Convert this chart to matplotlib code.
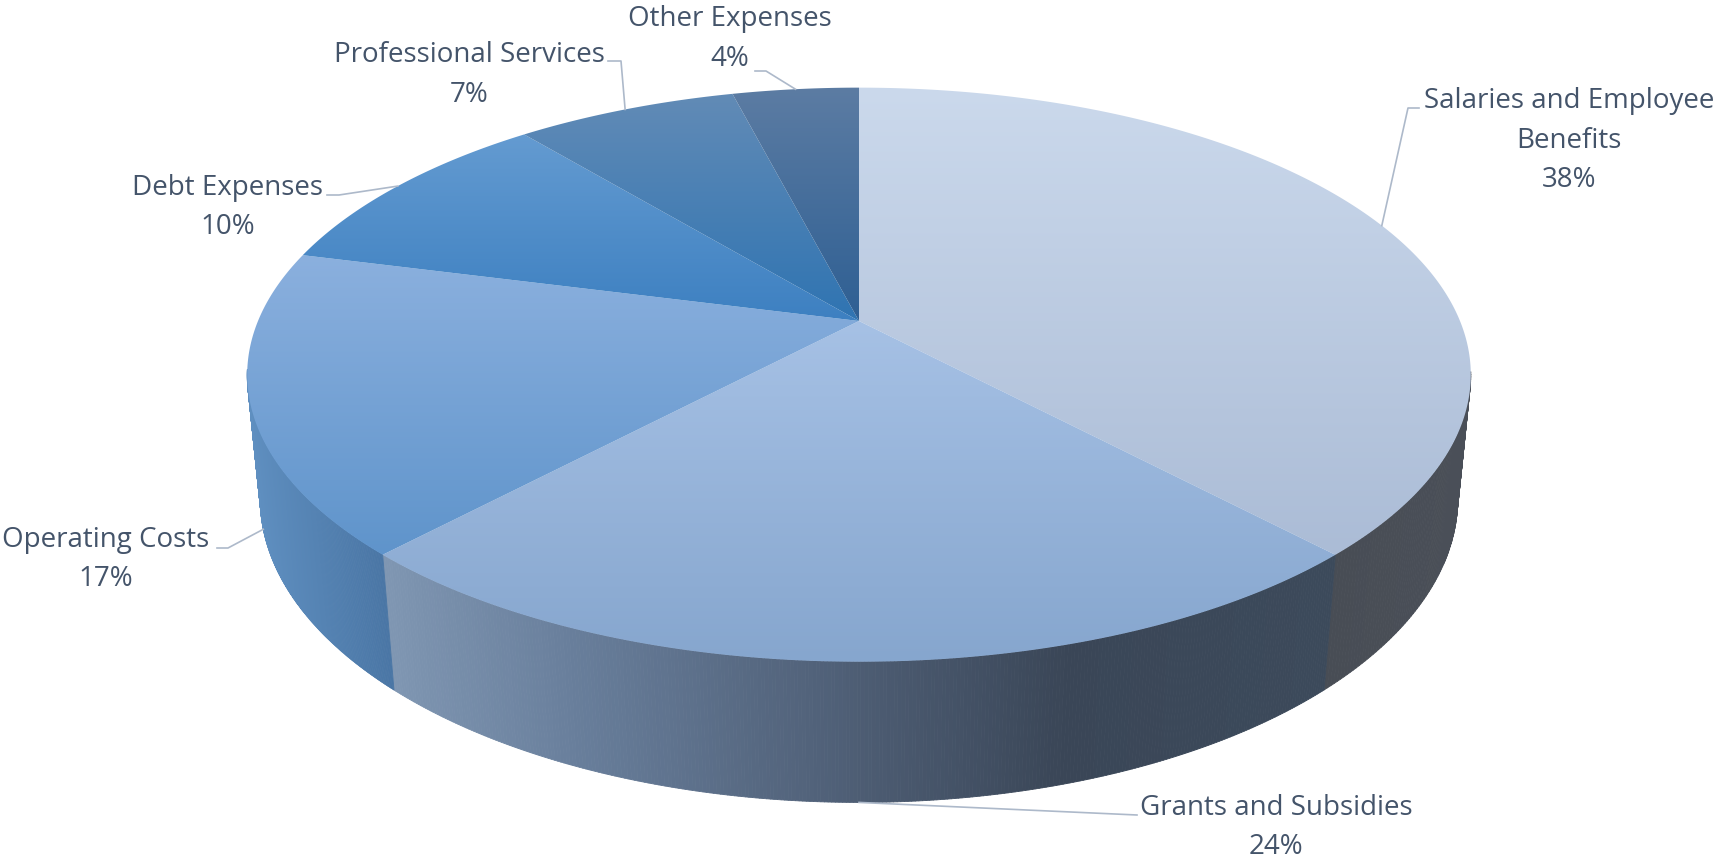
import numpy as np
import matplotlib
matplotlib.use('Agg')
import matplotlib.pyplot as plt
from matplotlib.collections import PolyCollection
from matplotlib.colors import LinearSegmentedColormap
from matplotlib.patches import Polygon

# data
categories = ['Salaries and Employee\nBenefits', 'Grants and Subsidies', 'Operating Costs',
              'Debt Expenses', 'Professional Services', 'Other Expenses']
shares = [38, 24, 17, 10, 7, 4]

# colours, top of slice (far -> near)
top_colors = [['#CBD9EC', '#ABBCD6'], ['#A6C1E5', '#86A6CE'], ['#8BB0DE', '#5F94CB'],
              ['#649BD1', '#3D80C1'], ['#628BB6', '#2F74B2'], ['#5C7CA3', '#2E5F93']]
# side wall colours, left -> right on the page
wall_colors = [[(0, '#484D55'), (1, '#4A4F58')],
               [(0, '#7F96B2'), (0.2, '#687E9B'), (0.49, '#4E5E75'), (0.72, '#3A4657'), (1, '#3C4A5B')],
               [(0, '#5F8FC0'), (1, '#4A76A5')]]
text_color = '#44546A'
line_color = '#ADB9CA'

# label layout: text centre, elbow of leader, wall depth where the leader ends
label_xy = [(1569, 101), (1276, 808), (106, 540), (228, 188), (469, 55), (730, 19)]
elbow = [(1408, 108), (1137, 815), (228, 548), (339, 195), (621, 61), (766, 71)]
start = [(1419, 108), (1137, 815), (217, 548), (327, 195), (608, 61), (755, 71)]
leader_z = [0, 1, 1, 0, 0, 0]

# perspective of the disc
cx, cy = 859, 321
a, b, k = 601, 277, 0.187
c, d = 124.5, 0.021


def project(theta, z=0.0):
    u = np.sin(theta)
    v = -np.cos(theta)
    w = 1 - k * v + d * z
    return cx + a * u / w, cy + (b * v + c * z) / w


fig = plt.figure(figsize=(17.16, 8.59), dpi=100)
ax = fig.add_axes([0, 0, 1, 1])

edges = np.cumsum([0] + shares) / sum(shares) * 2 * np.pi

# side walls, only the three front slices show one
for i in range(len(wall_colors)):
    t = np.linspace(edges[i], edges[i + 1], 300)
    x0, y0 = project(t, 0)
    x1, y1 = project(t, 1)
    quads = [[(x0[j], y0[j]), (x0[j + 1], y0[j + 1]), (x1[j + 1], y1[j + 1]), (x1[j], y1[j])]
             for j in range(len(t) - 1)]
    xm = (x0[:-1] + x0[1:] + x1[:-1] + x1[1:]) / 4
    # the back of the wall sits behind the top
    keep = -np.cos(t[:-1]) > 0.17
    quads = [q for q, s in zip(quads, keep) if s]
    xk = xm[keep]
    pos = (xk - xk.min()) / (xk.max() - xk.min())
    cmap = LinearSegmentedColormap.from_list('wall', wall_colors[i])
    cols = cmap(pos)
    ax.add_collection(PolyCollection(quads, facecolors=cols, edgecolors=cols, linewidths=0.6))

# top faces
for i in range(len(shares)):
    t = np.linspace(edges[i], edges[i + 1], 300)
    x0, y0 = project(t, 0)
    xs = np.r_[cx, x0]
    ys = np.r_[cy, y0]
    cmap = LinearSegmentedColormap.from_list('top', top_colors[i])
    im = ax.imshow(np.linspace(0, 1, 256).reshape(-1, 1), cmap=cmap, aspect='auto',
                   extent=(xs.min(), xs.max(), ys.max(), ys.min()), origin='upper',
                   interpolation='bilinear', zorder=3)
    clip = Polygon(np.c_[xs, ys], closed=True, transform=ax.transData)
    im.set_clip_path(clip)

# labels and leaders
for i, name in enumerate(categories):
    mid = (edges[i] + edges[i + 1]) / 2
    ex, ey = project(mid, leader_z[i])
    ax.plot([start[i][0], elbow[i][0], ex], [start[i][1], elbow[i][1], ey],
            color=line_color, lw=1.2, zorder=4, solid_joinstyle='round')
    lines = name.split('\n') + ['%d%%' % shares[i]]
    for n, line in enumerate(lines):
        ax.text(label_xy[i][0], label_xy[i][1] + n * 39.5, line, color=text_color,
                fontsize=20, family='Open Sans', ha='center', va='center', zorder=5)

ax.set_xlim(0, 1716)
ax.set_ylim(859, 0)
ax.axis('off')

plt.savefig('out.png', dpi=100)
